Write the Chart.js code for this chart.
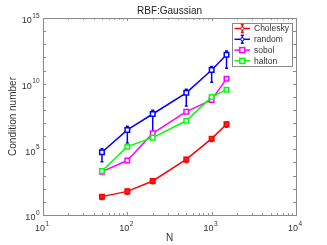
<!DOCTYPE html>
<html>
<head>
<meta charset="utf-8">
<script src="https://cdn.jsdelivr.net/npm/chart.js@4/dist/chart.umd.min.js"></script>
<style>
  body { margin: 0; background: #fff; }
  canvas { display: block; }
</style>
</head>
<body>
<canvas id="cond" width="327" height="245"></canvas>
<script>
// problem sizes
const sizes = [50, 100, 200, 500, 1000, 1500];

// condition numbers per point set
const cholesky = [25, 63, 390, 17000, 650000, 8.1e6];
const random   = [6.0e4, 3.0e6, 4.9e7, 2.0e9, 1.1e11, 1.6e12];
const sobol    = [2000, 1.4e4, 1.66e6, 7.4e7, 5.8e8, 2.4e10];
const halton   = [2240, 1.6e5, 7.8e5, 1.5e7, 9.8e8, 3.5e9];

// error bar half-widths (linear)
const choleskyErr = [10, 25, 150, 7000, 250000, 3.2e6];
const randomErr   = [4.85e4, 2.7e6, 4.74e7, 1.8e9, 9.7e10, 1.45e12];

const yTickExps = [0, 5, 10, 15];
const xTickExps = [1, 2, 3, 4];

const FONT = '"Liberation Sans", Arial, sans-serif';
const AXIS = '#8a8a8a';
const TEXT = '#333';

const pts = vals => vals.map((v, i) => ({ x: sizes[i], y: v }));

const series = [
  { label: 'Cholesky', data: cholesky, err: choleskyErr, color: '#ff0000', fill: '#ff2020', order: 4 },
  { label: 'random',   data: random,   err: randomErr,   color: '#0000ff', fill: '#ffffff', order: 3 },
  { label: 'sobol',    data: sobol,    err: null,        color: '#ff00ff', fill: '#ffffff', order: 2 },
  { label: 'halton',   data: halton,   err: null,        color: '#00ff00', fill: '#ffffff', order: 1 },
];

function drawPow(ctx, exp, x, y, align) {
  ctx.font = '9px ' + FONT;
  const bw = ctx.measureText('10').width;
  ctx.font = '6.5px ' + FONT;
  const ew = ctx.measureText(String(exp)).width;
  const total = bw + ew + 0.5;
  let left = x;
  if (align === 'right') left = x - total;
  if (align === 'center') left = x - total / 2;
  ctx.textAlign = 'left';
  ctx.textBaseline = 'middle';
  ctx.font = '9px ' + FONT;
  ctx.fillText('10', left, y);
  ctx.font = '6.5px ' + FONT;
  ctx.fillText(String(exp), left + bw + 0.5, y - 5);
}

const overlay = {
  id: 'overlay',
  beforeDatasetsDraw(chart) {
    const { ctx } = chart;
    const xs = chart.scales.x, ys = chart.scales.y;
    ctx.save();
    ctx.lineWidth = 1.5;
    series.forEach(s => {
      if (!s.err) return;
      ctx.strokeStyle = s.color;
      s.data.forEach((v, i) => {
        const px = xs.getPixelForValue(sizes[i]);
        const top = ys.getPixelForValue(v + s.err[i]);
        const bot = ys.getPixelForValue(Math.max(v - s.err[i], 1e-3));
        ctx.beginPath();
        ctx.moveTo(px, top); ctx.lineTo(px, bot);
        ctx.moveTo(px - 1.5, top); ctx.lineTo(px + 1.5, top);
        ctx.moveTo(px - 1.5, bot); ctx.lineTo(px + 1.5, bot);
        ctx.stroke();
      });
    });
    ctx.restore();
  },
  afterDraw(chart) {
    const { ctx, chartArea: a } = chart;
    const xs = chart.scales.x, ys = chart.scales.y;
    ctx.save();

    // axes box
    ctx.strokeStyle = AXIS;
    ctx.lineWidth = 1;
    ctx.strokeRect(Math.round(a.left) + 0.5, Math.round(a.top) + 0.5,
                   Math.round(a.right - a.left), Math.round(a.bottom - a.top));

    // inward ticks
    ctx.beginPath();
    for (let k = 0; k <= 15; k++) {
      const py = Math.round(ys.getPixelForValue(Math.pow(10, k))) + 0.5;
      ctx.moveTo(a.left, py); ctx.lineTo(a.left + 3, py);
      ctx.moveTo(a.right, py); ctx.lineTo(a.right - 3, py);
    }
    for (let d = 1; d <= 4; d++) {
      for (let m = 1; m <= (d === 4 ? 1 : 9); m++) {
        const px = Math.round(xs.getPixelForValue(m * Math.pow(10, d))) + 0.5;
        const len = m === 1 ? 3 : 1.8;
        ctx.moveTo(px, a.bottom); ctx.lineTo(px, a.bottom - len);
        ctx.moveTo(px, a.top); ctx.lineTo(px, a.top + len);
      }
    }
    ctx.stroke();

    // tick labels
    ctx.fillStyle = TEXT;
    yTickExps.forEach(k => {
      const py = ys.getPixelForValue(Math.pow(10, k));
      drawPow(ctx, k, a.left - 3.5, py + 3, 'right');
    });
    xTickExps.forEach(k => {
      const px = xs.getPixelForValue(Math.pow(10, k));
      drawPow(ctx, k, px - 1, a.bottom + 14, 'center');
    });

    // title and axis titles
    ctx.textAlign = 'center';
    ctx.textBaseline = 'middle';
    ctx.font = '10px ' + FONT;
    ctx.fillStyle = '#222';
    ctx.fillText('RBF:Gaussian', (a.left + a.right) / 2, 11.5);
    ctx.fillStyle = TEXT;
    ctx.fillText('N', (a.left + a.right) / 2, 238.5);
    ctx.save();
    ctx.translate(13, (a.top + a.bottom) / 2);
    ctx.rotate(-Math.PI / 2);
    ctx.fillText('Condition number', 0, 0);
    ctx.restore();

    // legend
    const lx = 232.5, ly = 23.5, lw = 60, lh = 43;
    ctx.fillStyle = '#fff';
    ctx.fillRect(lx, ly, lw, lh);
    ctx.strokeStyle = AXIS;
    ctx.lineWidth = 1;
    ctx.strokeRect(lx, ly, lw, lh);
    series.forEach((s, i) => {
      const cy = 28.5 + i * 10.8;
      ctx.strokeStyle = s.color;
      ctx.lineWidth = 1.5;
      ctx.beginPath();
      ctx.moveTo(234.5, cy); ctx.lineTo(250, cy);
      ctx.stroke();
      const mx = 242.3;
      if (s.err) {
        ctx.beginPath();
        ctx.moveTo(mx, cy - 4); ctx.lineTo(mx, cy + 4);
        ctx.moveTo(mx - 1.5, cy - 4); ctx.lineTo(mx + 1.5, cy - 4);
        ctx.moveTo(mx - 1.5, cy + 4); ctx.lineTo(mx + 1.5, cy + 4);
        ctx.stroke();
        ctx.fillStyle = '#fff';
        ctx.beginPath();
        ctx.arc(mx, cy, 1.6, 0, Math.PI * 2);
        ctx.fill();
        ctx.lineWidth = 1;
        ctx.stroke();
      } else {
        ctx.fillStyle = '#fff';
        ctx.fillRect(mx - 2.5, cy - 2.5, 5, 5);
        ctx.strokeRect(mx - 2.5, cy - 2.5, 5, 5);
      }
      ctx.fillStyle = TEXT;
      ctx.font = '8.5px ' + FONT;
      ctx.textAlign = 'left';
      ctx.textBaseline = 'middle';
      ctx.fillText(s.label, 254, cy + 0.5);
    });

    ctx.restore();
  }
};

new Chart(document.getElementById('cond'), {
  type: 'line',
  data: {
    datasets: series.map(s => ({
      label: s.label,
      data: pts(s.data),
      order: s.order,
      borderColor: s.color,
      backgroundColor: s.fill,
      borderWidth: 1.5,
      pointStyle: 'rect',
      pointRadius: 3.2,
      pointBorderWidth: 1.5,
      pointBackgroundColor: s.fill,
      pointBorderColor: s.color,
      tension: 0,
      fill: false,
    }))
  },
  options: {
    responsive: false,
    animation: false,
    devicePixelRatio: 1,
    layout: { padding: { top: 18, right: 31, left: 0, bottom: 0 } },
    plugins: { legend: { display: false }, title: { display: false }, tooltip: { enabled: false } },
    scales: {
      x: {
        type: 'logarithmic', min: 10, max: 10000,
        grid: { display: false }, border: { display: false },
        ticks: { display: false },
        afterFit: s => { s.height = 30; }
      },
      y: {
        type: 'logarithmic', min: 1, max: 1e15,
        grid: { display: false }, border: { display: false },
        ticks: { display: false },
        afterFit: s => { s.width = 43; }
      }
    }
  },
  plugins: [overlay]
});
</script>
</body>
</html>
